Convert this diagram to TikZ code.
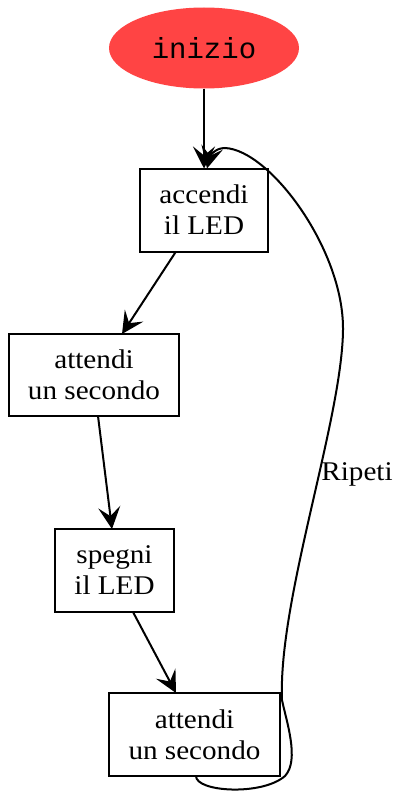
\documentclass[tikz,border=0pt]{standalone}
\usepackage{fontspec}
\usepackage{tikz}
\usetikzlibrary{arrows.meta,shapes.geometric}
\setmainfont{Liberation Serif}[FakeStretch=1.08]
\newfontfamily\startfont{Liberation Mono}
\definecolor{startred}{RGB}{255,68,68}

\begin{document}
\begin{tikzpicture}[x=1pt, y=-1pt,
  every node/.style={font=\fontsize{27}{31}\selectfont, align=center, outer sep=0pt},
  stepbox/.style={draw, line width=2pt, inner sep=2pt},
  flow/.style={line width=2pt, -{Stealth[length=22pt, width=22pt, inset=9pt]}}]
\useasboundingbox (0,0) rectangle (404,800);

% blocchi
\node[ellipse, fill=startred, minimum width=190pt, minimum height=81pt,
  font=\startfont\fontsize{29}{31}\selectfont] (start) at (204,48) {inizio};
\node[stepbox, minimum width=128pt, minimum height=83pt] (led_on) at (204,210) {accendi\\il LED};
\node[stepbox, minimum width=170pt, minimum height=82pt] (wait_a) at (94,375) {attendi\\un secondo};
\node[stepbox, minimum width=119pt, minimum height=83pt] (led_off) at (114.5,570.5) {spegni\\il LED};
\node[stepbox, minimum width=171pt, minimum height=83pt] (wait_b) at (194.5,734.5) {attendi\\un secondo};

% frecce
\draw[flow] (start.south) -- (led_on.north);
\draw[flow] ([xshift=-28pt]led_on.south) -- ([xshift=28pt]wait_a.north);
\draw[flow] ([xshift=4pt]wait_a.south) -- ([xshift=-2.5pt]led_off.north);
\draw[flow] ([xshift=18.5pt]led_off.south) -- ([xshift=-18.5pt]wait_b.north);

% ciclo
\draw[flow] ([xshift=1.5pt]wait_b.south)
  .. controls (196,792) and (262,796) .. (285,776)
  .. controls (300,760) and (286,720) .. (282,700)
  .. controls (278,600) and (342,420) .. (343,330)
  .. controls (344,250) and (270,150) .. (225,148)
  .. controls (215,148) and (210,156) .. ([xshift=3pt]led_on.north);
\node (repeat) at (357,474) {Ripeti};
\end{tikzpicture}
\end{document}
